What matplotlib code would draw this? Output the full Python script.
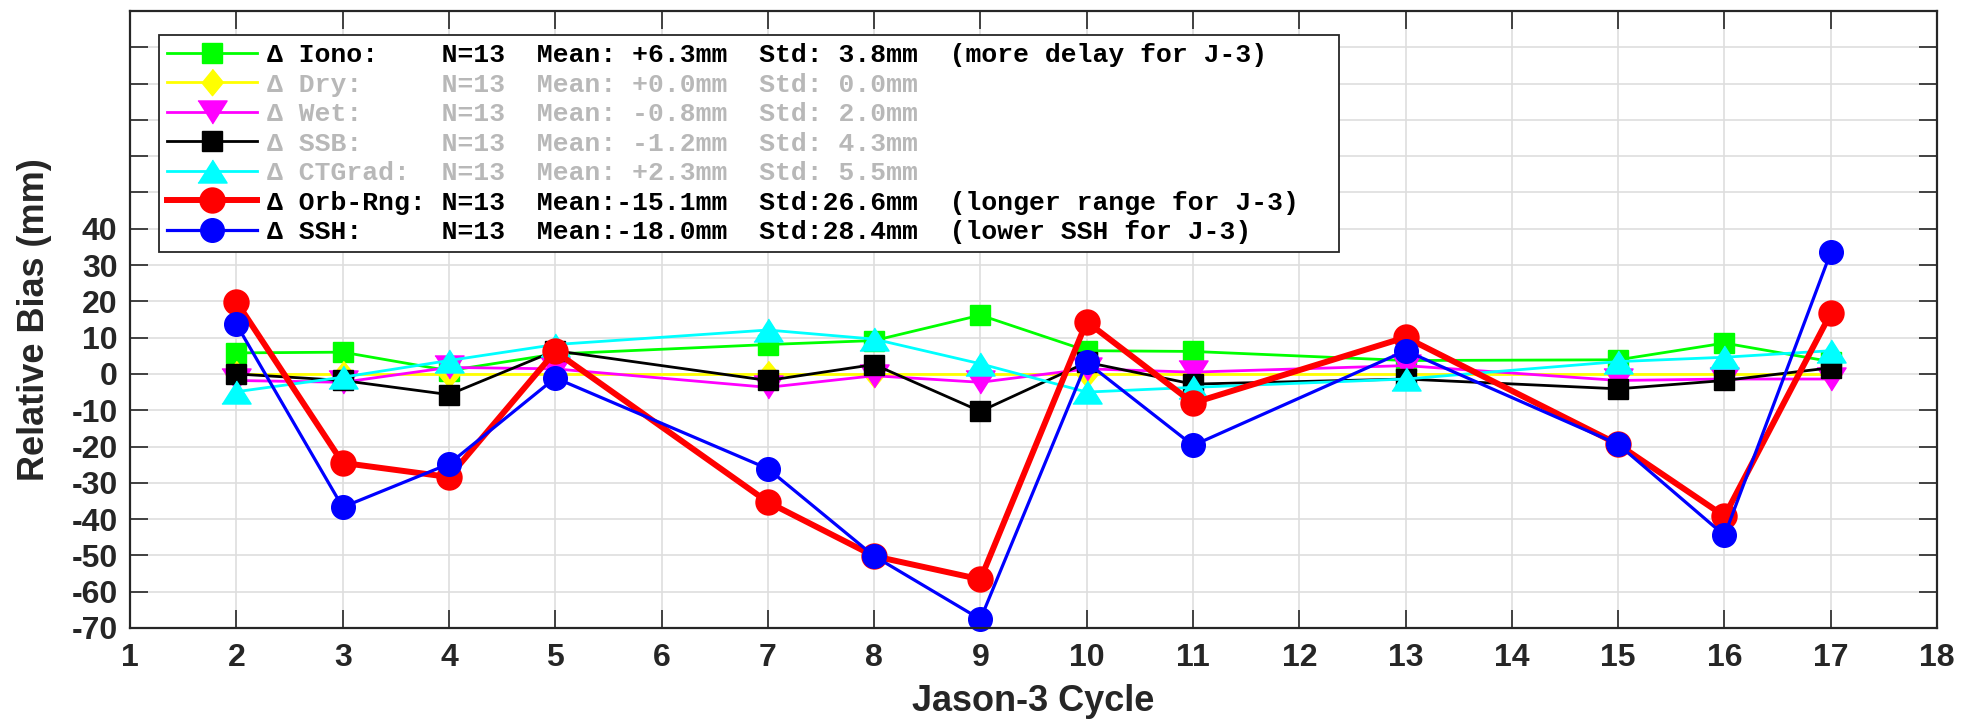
#!/usr/bin/env python3
"""Jason-3 relative bias per cycle: 7 delta series, MATLAB-style look."""

import numpy as np
import matplotlib
matplotlib.use("Agg")
import matplotlib.pyplot as plt
from matplotlib.font_manager import FontProperties

TXT = "#262626"
GRID = "#dedede"

cycles = [2, 3, 4, 5, 7, 8, 9, 10, 11, 13, 15, 16, 17]

iono = [5.8, 6.0, 0.9, 5.5, 8.1, 9.2, 16.2, 6.4, 6.2, 3.7, 3.9, 8.5, 3.4]
dry = [0.0, 0.0, 0.0, 0.0, 0.0, 0.0, 0.0, 0.0, 0.0, 0.0, 0.0, 0.0, 0.0]
wet = [-1.8, -2.3, 1.8, 1.4, -3.7, -0.5, -2.3, 1.4, 0.5, 2.3, -1.8, -1.4, -1.4]
ssb = [0.0, -1.8, -5.7, 6.4, -1.8, 2.6, -10.3, 3.2, -2.8, -1.4, -4.1, -1.8, 1.7]
ctgrad = [-4.9, -0.9, 3.7, 8.1, 12.1, 9.6, 2.8, -5.0, -3.7, -1.4, 3.4, 4.6, 6.4]
orb_rng = [19.9, -24.5, -28.4, 6.2, -35.3, -50.2, -56.6, 14.4, -8.0, 10.1, -19.4, -39.2, 16.7]
ssh = [13.7, -36.7, -24.8, -1.1, -26.1, -50.2, -67.6, 3.2, -19.7, 6.4, -19.4, -44.5, 33.5]

names = ["Iono:", "Dry:", "Wet:", "SSB:", "CTGrad:", "Orb-Rng:", "SSH:"]
n_pts = [13, 13, 13, 13, 13, 13, 13]
means = ["+6.3", "+0.0", "-0.8", "-1.2", "+2.3", "-15.1", "-18.0"]
stds = ["3.8", "0.0", "2.0", "4.3", "5.5", "26.6", "28.4"]
notes = ["(more delay for J-3)", "", "", "", "", "(longer range for J-3)", "(lower SSH for J-3)"]
greyed = [False, True, True, True, True, False, False]

# MATLAB-ish markers (triangles wider than tall, diamond taller than wide)
DIAMOND = [(0, 1), (0.82, 0), (0, -1), (-0.82, 0)]
TRI_DOWN = [(-1, 0.79), (1, 0.79), (0, -0.79)]
TRI_UP = [(-1, -0.79), (1, -0.79), (0, 0.79)]

series = [
    (iono, "#00ff00", "s", 14, 2.0),
    (dry, "#ffff00", DIAMOND, 19, 2.0),
    (wet, "#ff00ff", TRI_DOWN, 21, 2.0),
    (ssb, "#000000", "s", 14, 2.0),
    (ctgrad, "#00ffff", TRI_UP, 21, 2.0),
    (orb_rng, "#ff0000", "o", 16, 4.3),
    (ssh, "#0000ff", "o", 17, 2.3),
]

plt.rcParams["font.family"] = ["Liberation Sans", "DejaVu Sans"]
plt.rcParams["font.weight"] = "bold"

fig = plt.figure(figsize=(19.77, 7.24), dpi=100)
ax = fig.add_axes([0.0658, 0.1326, 0.914, 0.8522])

handles = []
for vals, color, marker, ms, lw in series:
    mew = 3.0 if lw > 4 else 1.0
    (h,) = ax.plot(cycles, vals, color=color, lw=lw, marker=marker, ms=ms,
                   mfc=color, mec=color, mew=mew, clip_on=False)
    handles.append(h)

labels = []
for name, n, m, s, note in zip(names, n_pts, means, stds, notes):
    lab = f"\u0394 {name:<8s} N={n}  Mean:{m:>5s}mm  Std:{s:>4s}mm"
    if note:
        lab += f"  {note}"
    # MATLAB leaves some room after the longest entry
    labels.append(lab.ljust(66) + "\u00a0")

ax.set_xlim(1, 18)
ax.set_ylim(-70, 100)
ax.set_xticks(np.arange(1, 19))
yt = np.arange(-70, 101, 10)
ax.set_yticks(yt)
ax.set_yticklabels([str(v) if v <= 40 else "" for v in yt])

ax.grid(True, color=GRID, lw=1.2)
ax.set_axisbelow(True)
for sp in ax.spines.values():
    sp.set_color(TXT)
    sp.set_linewidth(1.6)
ax.tick_params(direction="in", length=13, width=1.2, colors=TXT,
               top=True, right=True, labelsize=23)
ax.tick_params(axis="x", pad=11)
ax.tick_params(axis="y", pad=9)
for lbl in ax.get_xticklabels() + ax.get_yticklabels():
    lbl.set_fontweight("bold")

ax.set_xlabel("Jason-3 Cycle", fontsize=26, fontweight="bold", color=TXT, labelpad=8)
ax.set_ylabel("Relative Bias (mm)", fontsize=26, fontweight="bold", color=TXT, labelpad=14)

mono = FontProperties(family=["Liberation Mono", "DejaVu Sans Mono"],
                      weight="bold", size=19)
leg = ax.legend(handles, labels, loc="upper left", bbox_to_anchor=(0.016, 0.961),
                prop=mono, numpoints=1, handlelength=3.4, handletextpad=0.4,
                borderpad=0.3, labelspacing=0.21, fancybox=False, framealpha=1,
                borderaxespad=0)
leg.get_frame().set_edgecolor(TXT)
leg.get_frame().set_linewidth(1.3)
for txt, g in zip(leg.get_texts(), greyed):
    txt.set_color("#b8b8b8" if g else "#000000")

fig.savefig("out.png", dpi=100)
